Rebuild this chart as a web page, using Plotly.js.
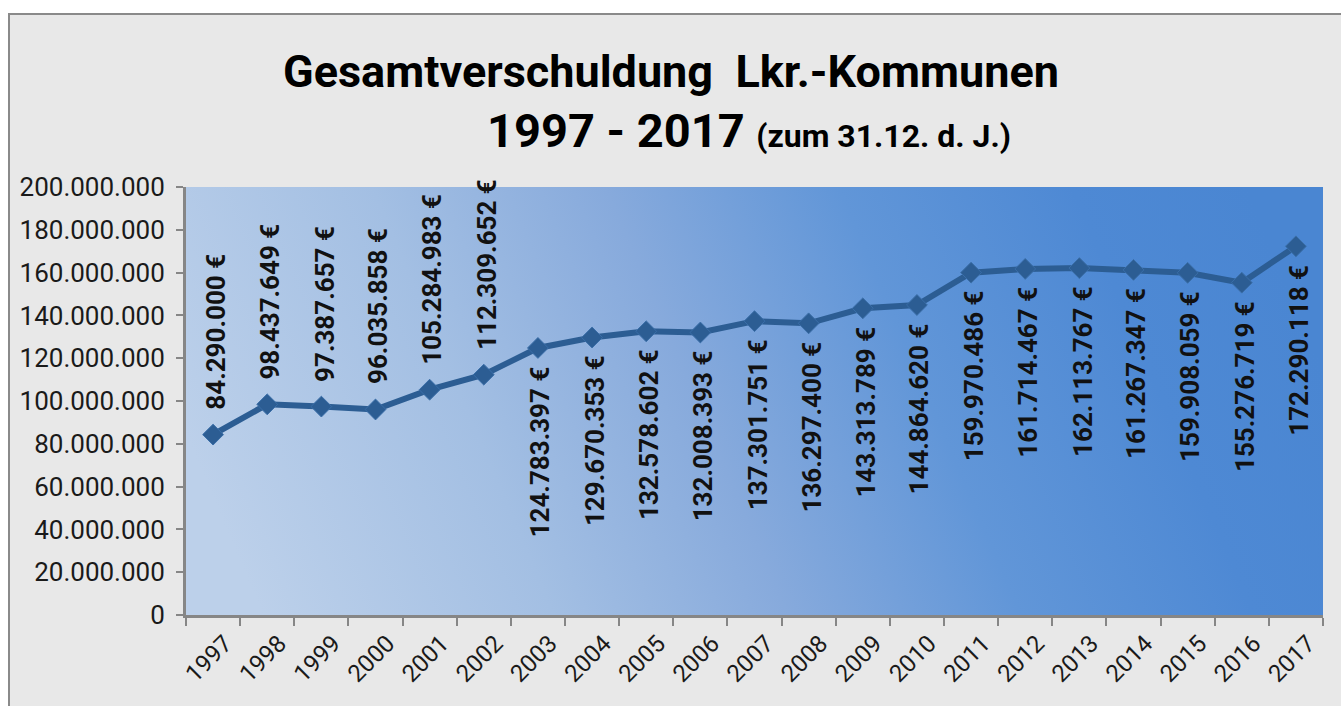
<!DOCTYPE html>
<html>
<head>
<meta charset="utf-8">
<script src="https://cdn.plot.ly/plotly-3.0.1.min.js"></script>
<style>
  body { margin: 0; background: #ffffff; }
  #debt-chart {
    position: absolute;
    left: 8px;
    top: 13px;
    width: 1331px;
    height: 691px;
    border-left: 2px solid #8a8a8a;
    border-top: 2px solid #8a8a8a;
  }
</style>
</head>
<body>
<div id="debt-chart"></div>
<script>
const years = ['1997', '1998', '1999', '2000', '2001', '2002', '2003', '2004', '2005', '2006',
  '2007', '2008', '2009', '2010', '2011', '2012', '2013', '2014', '2015', '2016', '2017'];

const debt = [84290000, 98437649, 97387657, 96035858, 105284983, 112309652, 124783397,
  129670353, 132578602, 132008393, 137301751, 136297400, 143313789, 144864620,
  159970486, 161714467, 162113767, 161267347, 159908059, 155276719, 172290118];

// labels sit above the point up to 2002, below it afterwards
const lastYearAbove = 2002;

function euro(v) {
  return String(v).replace(/\B(?=(\d{3})+(?!\d))/g, '.') + ' €';
}

function plotDebt() {
  const lineColor = '#2c5d93';

  const trace = {
    x: years,
    y: debt,
    mode: 'lines+markers',
    line: { color: lineColor, width: 6 },
    marker: { symbol: 'diamond', size: 16, color: lineColor, line: { color: '#3a6ea8', width: 1 } },
    hoverinfo: 'x+y',
    cliponaxis: false
  };

  // category index as x, so '1997' is not read as a position
  const labels = years.map((yr, i) => {
    const above = Number(yr) <= lastYearAbove;
    return {
      x: i,
      y: debt[i],
      xref: 'x',
      yref: 'y',
      text: euro(debt[i]),
      showarrow: false,
      textangle: -90,
      xanchor: 'center',
      yanchor: above ? 'bottom' : 'top',
      xshift: 3,
      yshift: above ? 23 : -16,
      font: { family: 'Roboto', size: 26, color: '#111111', weight: 'bold' }
    };
  });

  const subtitle = {
    xref: 'paper',
    yref: 'paper',
    x: 0.495,
    y: 1.133,
    xanchor: 'center',
    yanchor: 'middle',
    showarrow: false,
    text: '<b>1997 - 2017</b> <b><span style="font-size:32px">(zum 31.12. d. J.)</span></b>',
    font: { family: 'Roboto', size: 47, color: '#000000' }
  };

  const gradient = '<svg xmlns="http://www.w3.org/2000/svg" width="100" height="100" preserveAspectRatio="none">' +
    '<defs><linearGradient id="g" x1="0" y1="0.58" x2="1" y2="0.42">' +
    '<stop offset="0" stop-color="#bcd0ea"/>' +
    '<stop offset="0.25" stop-color="#a3bfe3"/>' +
    '<stop offset="0.45" stop-color="#87aadc"/>' +
    '<stop offset="0.65" stop-color="#6196d8"/>' +
    '<stop offset="0.85" stop-color="#4e89d4"/>' +
    '<stop offset="1" stop-color="#4a86d2"/>' +
    '</linearGradient></defs><rect width="100" height="100" fill="url(#g)"/></svg>';

  const layout = {
    title: {
      text: '<b>Gesamtverschuldung\u00a0\u00a0Lkr.-Kommunen</b>',
      font: { family: 'Roboto', size: 45, color: '#000000' },
      x: 0.4966,
      xanchor: 'center',
      y: 0.919,
      yanchor: 'middle'
    },
    separators: ',.',
    paper_bgcolor: '#e8e8e8',
    plot_bgcolor: 'rgba(0,0,0,0)',
    showlegend: false,
    margin: { l: 176, r: 18, t: 172, b: 91 },
    xaxis: {
      type: 'category',
      range: [-0.5, years.length - 0.5],
      tickson: 'boundaries',
      ticks: 'outside',
      ticklen: 8,
      tickwidth: 2,
      tickcolor: '#868686',
      showline: true,
      linecolor: '#868686',
      linewidth: 3,
      showgrid: false,
      tickangle: -45,
      ticklabelshift: 12,
      ticklabelstandoff: 2,
      tickfont: { family: 'Roboto', size: 24, color: '#1a1a1a' }
    },
    yaxis: {
      range: [0, 200000000],
      dtick: 20000000,
      tickformat: ',',
      ticks: 'outside',
      ticklen: 7,
      tickwidth: 2,
      tickcolor: '#868686',
      showline: true,
      linecolor: '#868686',
      linewidth: 3,
      showgrid: false,
      zeroline: false,
      ticklabelstandoff: 6,
      tickfont: { family: 'Roboto', size: 26, color: '#1a1a1a' }
    },
    images: [{
      source: 'data:image/svg+xml;charset=utf-8,' + encodeURIComponent(gradient),
      xref: 'paper',
      yref: 'paper',
      x: 0,
      y: 1,
      sizex: 1,
      sizey: 1,
      sizing: 'stretch',
      layer: 'below'
    }],
    annotations: labels.concat([subtitle])
  };

  const config = { responsive: false, displayModeBar: false };

  Plotly.newPlot('debt-chart', [trace], layout, config);
}

plotDebt();
</script>
</body>
</html>
